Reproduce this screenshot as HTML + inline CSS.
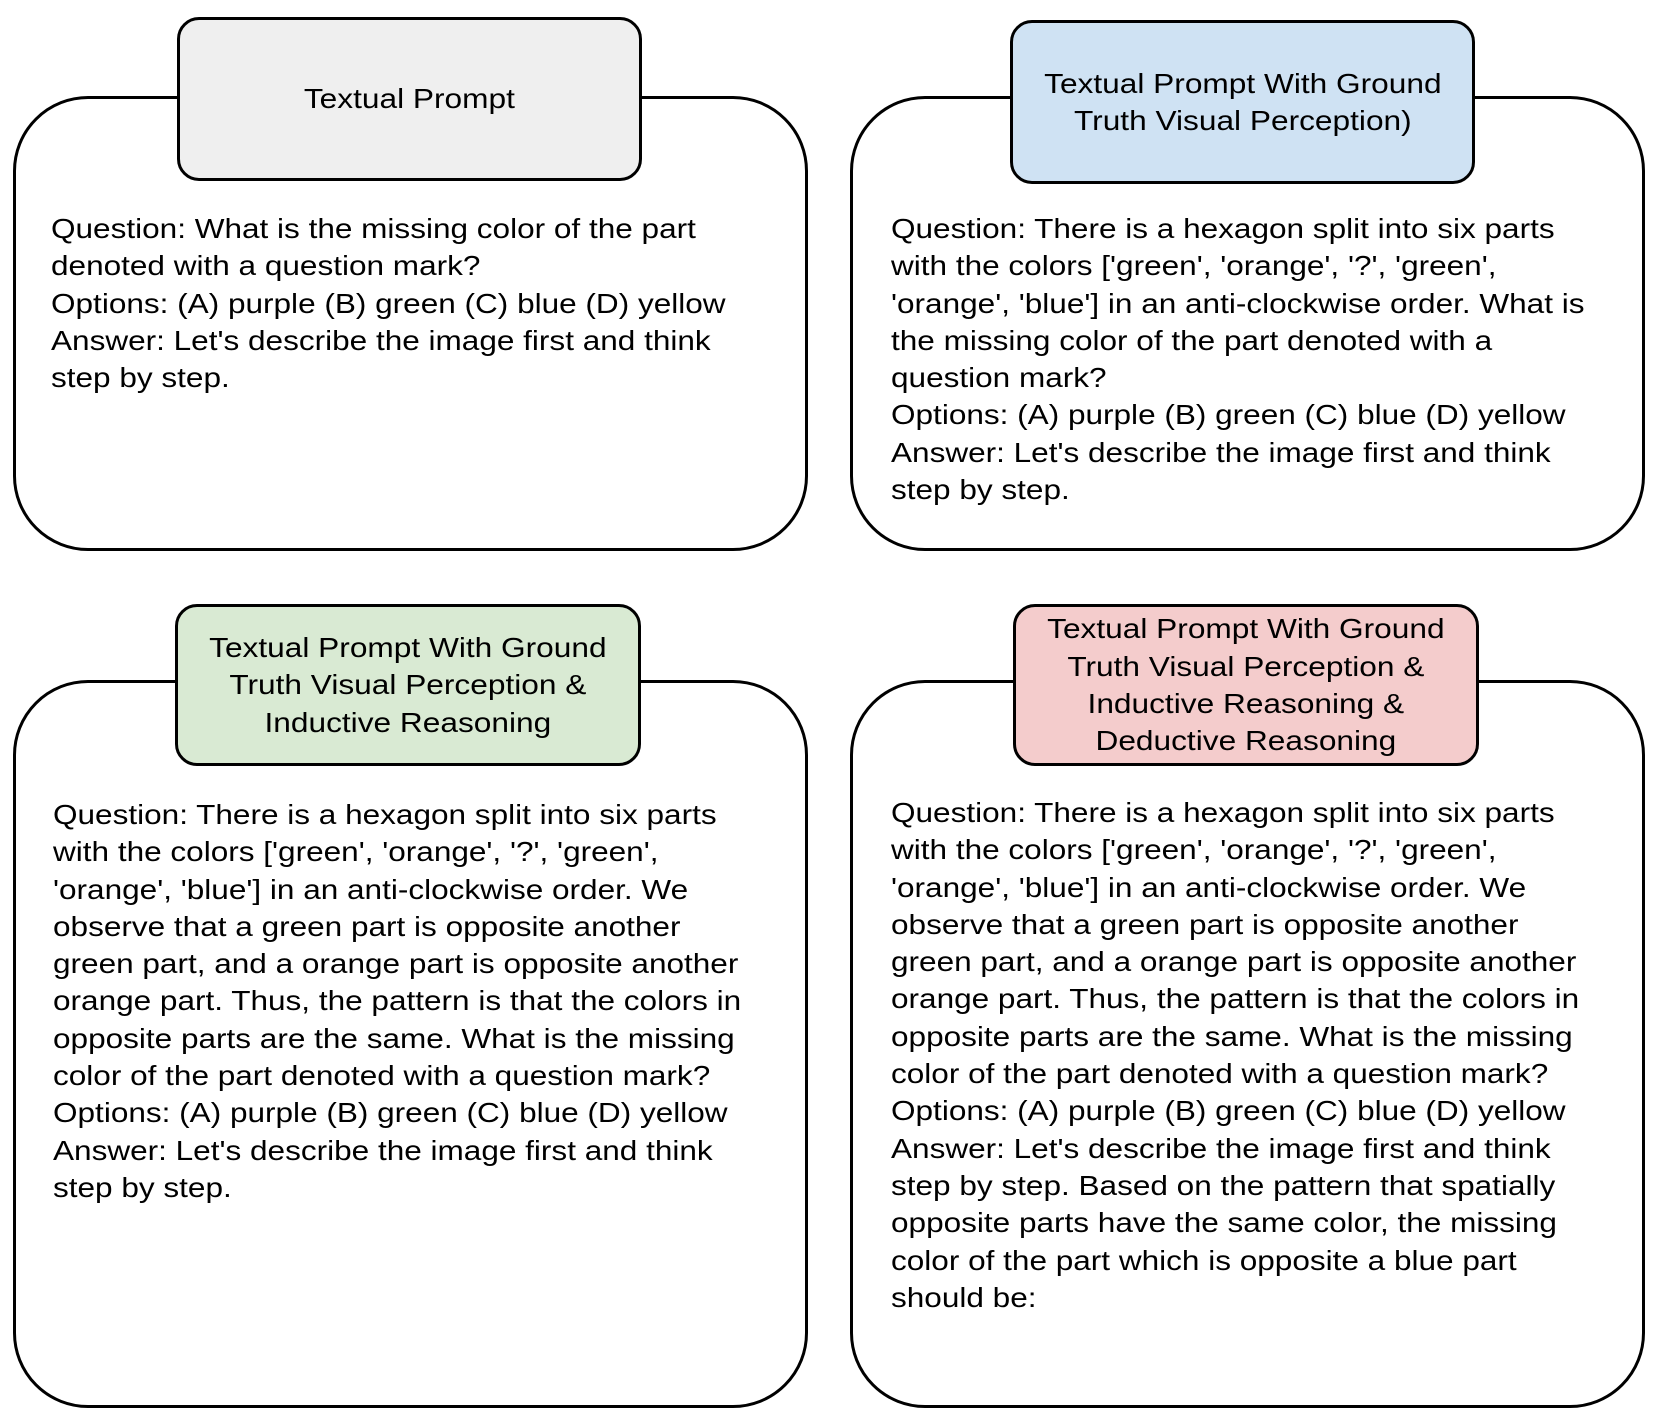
<!DOCTYPE html>
<html><head><meta charset="utf-8"><style>
body{margin:0;width:1661px;height:1420px;background:#fff;position:relative;overflow:hidden;font-family:"Liberation Sans",Arial,Helvetica,sans-serif;color:#000}
.big{position:absolute;border:3px solid #000;border-radius:75px;background:#fff;box-sizing:border-box}
.hd{position:absolute;border:3px solid #000;border-radius:22px;box-sizing:border-box;display:flex;align-items:center;justify-content:center;text-align:center;font-size:28px;line-height:37.3px}
.hd span{display:block;transform:scaleX(1.13);white-space:nowrap}
.t{position:absolute;font-size:28px;line-height:37.3px;white-space:nowrap;transform:scaleX(1.126);transform-origin:0 0}
</style></head><body>
<div class="big" style="left:13px;top:96px;width:795px;height:455px"></div>
<div class="big" style="left:850px;top:96px;width:795px;height:455px"></div>
<div class="big" style="left:13px;top:680px;width:795px;height:728px"></div>
<div class="big" style="left:850px;top:680px;width:795px;height:728px"></div>

<div class="hd" style="left:177px;top:17px;width:465px;height:164px;background:#efefef"><span>Textual Prompt</span></div>
<div class="hd" style="left:1010px;top:20px;width:465px;height:164px;background:#cfe2f3"><span>Textual Prompt With Ground<br>Truth Visual Perception)</span></div>
<div class="hd" style="left:175px;top:604px;width:466px;height:162px;background:#d9ead3"><span>Textual Prompt With Ground<br>Truth Visual Perception &amp;<br>Inductive Reasoning</span></div>
<div class="hd" style="left:1013px;top:604px;width:466px;height:162px;background:#f4cccc"><span>Textual Prompt With Ground<br>Truth Visual Perception &amp;<br>Inductive Reasoning &amp;<br>Deductive Reasoning</span></div>

<div class="t" style="left:51px;top:210px">Question: What is the missing color of the part<br>denoted with a question mark?<br>Options: (A) purple (B) green (C) blue (D) yellow<br>Answer: Let's describe the image first and think<br>step by step.</div>

<div class="t" style="left:891px;top:210px">Question: There is a hexagon split into six parts<br>with the colors ['green', 'orange', '?', 'green',<br>'orange', 'blue'] in an anti-clockwise order. What is<br>the missing color of the part denoted with a<br>question mark?<br>Options: (A) purple (B) green (C) blue (D) yellow<br>Answer: Let's describe the image first and think<br>step by step.</div>

<div class="t" style="left:53px;top:796px">Question: There is a hexagon split into six parts<br>with the colors ['green', 'orange', '?', 'green',<br>'orange', 'blue'] in an anti-clockwise order. We<br>observe that a green part is opposite another<br>green part, and a orange part is opposite another<br>orange part. Thus, the pattern is that the colors in<br>opposite parts are the same. What is the missing<br>color of the part denoted with a question mark?<br>Options: (A) purple (B) green (C) blue (D) yellow<br>Answer: Let's describe the image first and think<br>step by step.</div>

<div class="t" style="left:891px;top:794px">Question: There is a hexagon split into six parts<br>with the colors ['green', 'orange', '?', 'green',<br>'orange', 'blue'] in an anti-clockwise order. We<br>observe that a green part is opposite another<br>green part, and a orange part is opposite another<br>orange part. Thus, the pattern is that the colors in<br>opposite parts are the same. What is the missing<br>color of the part denoted with a question mark?<br>Options: (A) purple (B) green (C) blue (D) yellow<br>Answer: Let's describe the image first and think<br>step by step. Based on the pattern that spatially<br>opposite parts have the same color, the missing<br>color of the part which is opposite a blue part<br>should be:</div>
</body></html>
